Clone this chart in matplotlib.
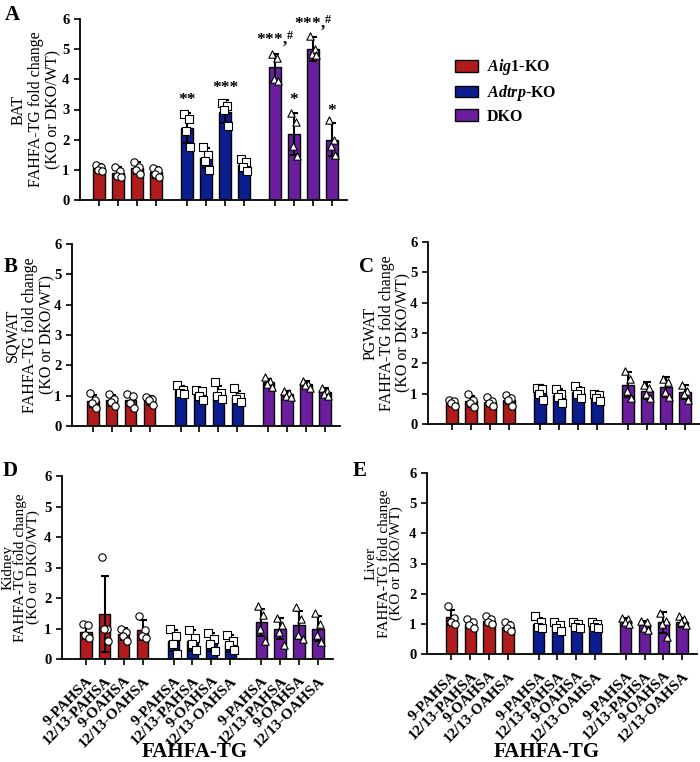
import numpy as np
import matplotlib.pyplot as plt
from matplotlib.patches import Patch

plt.rcParams['font.family'] = 'Liberation Serif'
plt.rcParams['font.weight'] = 'bold'
plt.rcParams['mathtext.fontset'] = 'custom'
plt.rcParams['mathtext.rm'] = 'Liberation Serif:weight=bold'
plt.rcParams['mathtext.bf'] = 'Liberation Serif:weight=bold'
plt.rcParams['mathtext.it'] = 'Liberation Serif:style=italic:weight=bold'

# genotypes and the four FAHFA-TG species
GROUPS = [r'$\it{Aig1}$-KO', r'$\it{Adtrp}$-KO', 'DKO']
FAHFAS = ['9-PAHSA', '12/13-PAHSA', '9-OAHSA', '12/13-OAHSA']
COLORS = ['#B01C1C', '#0B1D8F', '#6A1E9E']
MARKERS = ['o', 's', '^']

# BAT
bat_mean = [1.05, 0.9, 1.05, 0.92, 2.4, 1.4, 2.93, 1.15, 4.4, 2.2, 5.0, 2.0]
bat_sd = [0.15, 0.2, 0.2, 0.18, 0.5, 0.33, 0.37, 0.17, 0.45, 0.7, 0.4, 0.55]
bat_pts = [[1.15, 1.1, 1.0, 0.95], [1.1, 0.95, 0.8, 0.75], [1.25, 1.1, 1.0, 0.85], [1.05, 1.0, 0.85, 0.75],
           [2.85, 2.7, 2.3, 1.75], [1.75, 1.5, 1.3, 1.0], [3.2, 3.1, 3.0, 2.45], [1.35, 1.25, 1.1, 0.95],
           [4.85, 4.7, 4.0, 3.95], [2.9, 2.6, 1.8, 1.45], [5.45, 5.0, 4.85, 4.8], [2.65, 2.0, 1.8, 1.5]]
bat_sig = ['', '', '', '', '**', '', '***', '', r'***,$^{\#}$', '*', r'***,$^{\#}$', '*']

# SQWAT
sq_mean = [0.82, 0.85, 0.85, 0.85, 1.18, 1.05, 1.1, 0.97, 1.45, 1.05, 1.38, 1.12]
sq_sd = [0.2, 0.18, 0.2, 0.15, 0.15, 0.15, 0.22, 0.2, 0.1, 0.1, 0.1, 0.12]
sq_pts = [[1.1, 0.85, 0.75, 0.6], [1.05, 0.9, 0.8, 0.65], [1.05, 1.0, 0.75, 0.6], [0.95, 0.9, 0.85, 0.7],
          [1.35, 1.2, 1.1, 1.05], [1.2, 1.15, 1.0, 0.85], [1.45, 1.1, 1.0, 0.9], [1.25, 0.95, 0.9, 0.8],
          [1.6, 1.5, 1.4, 1.3], [1.15, 1.1, 1.0, 0.95], [1.5, 1.4, 1.35, 1.25], [1.25, 1.15, 1.05, 1.0]]

# PGWAT
pg_mean = [0.7, 0.75, 0.72, 0.8, 1.07, 0.95, 1.05, 0.9, 1.3, 1.1, 1.22, 1.05]
pg_sd = [0.1, 0.18, 0.12, 0.13, 0.2, 0.2, 0.18, 0.12, 0.4, 0.28, 0.32, 0.22]
pg_pts = [[0.8, 0.75, 0.7, 0.6], [1.0, 0.8, 0.7, 0.55], [0.9, 0.75, 0.7, 0.6], [0.95, 0.85, 0.8, 0.6],
          [1.2, 1.15, 1.0, 0.8], [1.15, 1.0, 0.9, 0.7], [1.25, 1.1, 1.0, 0.85], [1.0, 0.95, 0.85, 0.75],
          [1.75, 1.5, 1.1, 0.85], [1.3, 1.2, 1.0, 0.85], [1.5, 1.4, 1.05, 0.9], [1.3, 1.1, 1.0, 0.8]]

# Kidney
kid_mean = [0.88, 1.48, 0.82, 0.95, 0.6, 0.6, 0.55, 0.52, 1.2, 1.0, 1.12, 1.0]
kid_sd = [0.22, 1.25, 0.2, 0.33, 0.35, 0.35, 0.3, 0.28, 0.45, 0.35, 0.45, 0.42]
kid_pts = [[1.15, 1.1, 0.8, 0.7], [3.35, 1.0, 1.0, 0.6], [1.0, 0.9, 0.75, 0.6], [1.4, 0.95, 0.75, 0.7],
           [1.0, 0.75, 0.5, 0.15], [0.95, 0.7, 0.5, 0.3], [0.85, 0.65, 0.5, 0.25], [0.8, 0.6, 0.45, 0.3],
           [1.75, 1.45, 1.0, 0.6], [1.35, 1.1, 0.9, 0.45], [1.7, 1.3, 0.8, 0.65], [1.5, 1.15, 0.8, 0.55]]

# Liver
liv_mean = [1.22, 1.0, 1.1, 0.9, 1.0, 0.9, 0.92, 0.92, 1.1, 0.95, 1.05, 1.05]
liv_sd = [0.25, 0.12, 0.12, 0.15, 0.18, 0.15, 0.1, 0.12, 0.1, 0.15, 0.35, 0.15]
liv_pts = [[1.6, 1.2, 1.05, 1.0], [1.15, 1.05, 0.95, 0.85], [1.25, 1.15, 1.05, 1.0], [1.05, 0.95, 0.85, 0.75],
           [1.25, 1.05, 0.9, 0.85], [1.05, 0.95, 0.85, 0.75], [1.05, 1.0, 0.9, 0.85], [1.05, 1.0, 0.9, 0.85],
           [1.2, 1.15, 1.05, 1.0], [1.1, 1.05, 0.85, 0.8], [1.35, 1.1, 1.0, 0.55], [1.25, 1.15, 1.05, 0.95]]

GROUP_STEP = 4.63
JITTER = [-0.17, 0.12, -0.05, 0.18]
W, H = 700, 762


def px_axes(fig, left, right, top, bottom):
    """Axes from pixel edges of the reference image."""
    ax = fig.add_axes([left / W, 1 - bottom / H, (right - left) / W, (bottom - top) / H])
    ax._px = (left, right)
    return ax


def draw_panel(ax, means, sds, pts, tissue, xleft, lab_style, labels=False, sig=None):
    xs = np.array([j + g * GROUP_STEP for g in range(3) for j in range(4)])
    cols = [COLORS[g] for g in range(3) for j in range(4)]
    ax.bar(xs, means, width=0.6, color=cols, edgecolor='black', linewidth=1.0, zorder=2)
    ax.errorbar(xs, means, yerr=sds, fmt='none', ecolor='black', elinewidth=1.5,
                capsize=3, capthick=1.5, zorder=3)
    for i, x in enumerate(xs):
        g = i // 4
        ax.scatter(x + np.array(JITTER), pts[i], marker=MARKERS[g], s=28, facecolor='white',
                   edgecolor='black', linewidth=0.8, zorder=4)
        if sig and sig[i]:
            ax.text(x, means[i] + sds[i] + 0.15, sig[i], ha='center', va='bottom',
                    fontsize=12.5, clip_on=False)
    ax.set_xlim(xleft, 13.05)
    ax.set_ylim(0, 6)
    ax.set_yticks(range(7))
    ax.set_xticks(xs)
    if labels:
        ax.set_xticklabels(FAHFAS * 3, rotation=45, ha='right', rotation_mode='anchor', fontsize=11)
    else:
        ax.set_xticklabels([])
    ax.tick_params(axis='both', width=1.2, length=4, labelsize=10.5)
    ax.tick_params(axis='x', labelsize=11, pad=7)
    for s in ['top', 'right']:
        ax.spines[s].set_visible(False)
    for s in ['left', 'bottom']:
        ax.spines[s].set_linewidth(1.3)
    fs, ls, right_px = lab_style
    ax.set_ylabel(tissue + '\nFAHFA-TG fold change\n(KO or DKO/WT)', fontsize=fs, linespacing=ls)
    left, right = ax._px
    ax.yaxis.set_label_coords((right_px - left) / (right - left), 0.5)


fig = plt.figure(figsize=(7, 7.62), dpi=100)

axA = px_axes(fig, 80, 347, 19, 200)
draw_panel(axA, bat_mean, bat_sd, bat_pts, 'BAT', -1.0, (11.5, 1.1, 61), sig=bat_sig)
axB = px_axes(fig, 72, 340, 244, 426)
draw_panel(axB, sq_mean, sq_sd, sq_pts, 'SQWAT', -1.1, (11.5, 1.1, 55))
axC = px_axes(fig, 428, 700, 242, 424)
draw_panel(axC, pg_mean, pg_sd, pg_pts, 'PGWAT', -1.26, (11.5, 1.0, 411))
axD = px_axes(fig, 62, 333, 476, 659)
draw_panel(axD, kid_mean, kid_sd, kid_pts, 'Kidney', -1.26, (11, 0.92, 40), labels=True)
axE = px_axes(fig, 427, 697, 473, 654)
draw_panel(axE, liv_mean, liv_sd, liv_pts, 'Liver', -1.3, (11, 0.9, 403), labels=True)

fig.text(195 / W, 1 - 752 / H, 'FAHFA-TG', fontsize=15, ha='center', va='center')
fig.text(547 / W, 1 - 752 / H, 'FAHFA-TG', fontsize=15, ha='center', va='center')

for lab, x, y in [('A', 5, 5), ('B', 4, 257), ('C', 359, 257), ('D', 3, 461), ('E', 353, 461)]:
    fig.text(x / W, 1 - y / H, lab, fontsize=15, va='top', ha='left')

handles = [Patch(facecolor=c, edgecolor='black', linewidth=1.0) for c in COLORS]
fig.legend(handles, GROUPS, loc='upper left', bbox_to_anchor=(449 / W, 1 - 51 / H),
           frameon=False, fontsize=11.5, handlelength=1.4, handleheight=0.75,
           labelspacing=0.35, handletextpad=0.55, borderaxespad=0)

fig.savefig('out.png', dpi=100)
